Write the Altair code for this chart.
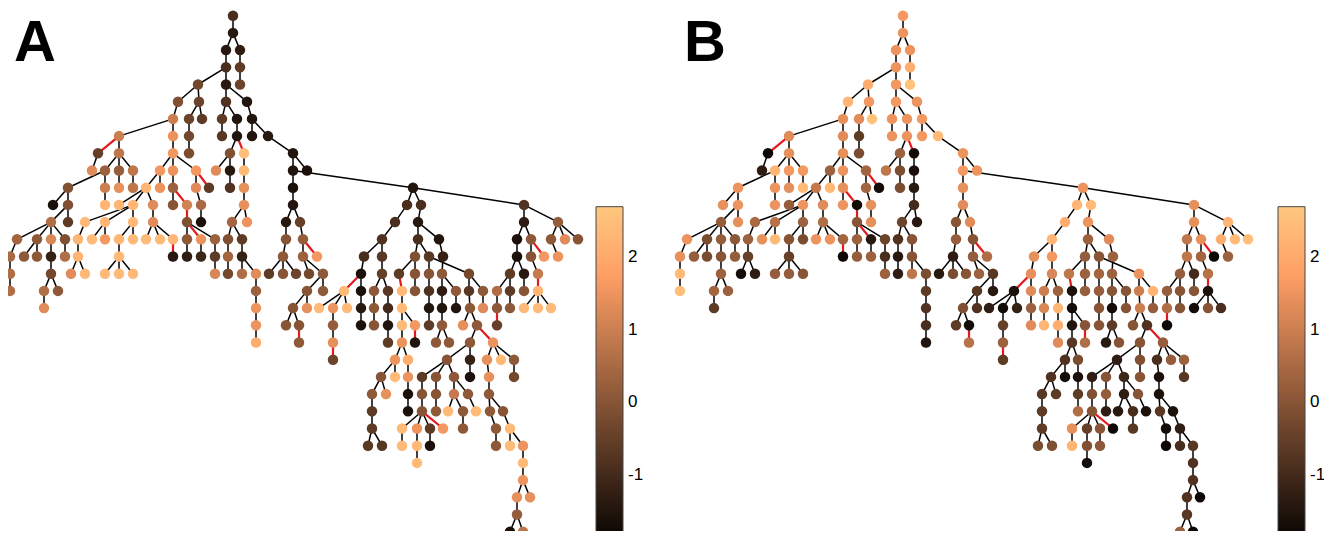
import altair as alt
import pandas as pd

# Tree nodes per depth level: (x position, parent x position, red edge flag, value A, value B)
lvl00 = [(233, None, 0, -0.9, 1.6)]
lvl01 = [(233, 233, 0, -1.4, 1.5)]
lvl02 = [(226, 233, 0, -1.4, 1.5), (240, 233, 0, -1.3, 1.5)]
lvl03 = [(226, 226, 0, -0.9, 1.5), (240, 240, 0, -0.6, 2.1)]
lvl04 = [(198, 226, 0, -0.3, 2.1), (226, 226, 0, -1.4, 1.6), (240, 240, 0, -0.4, 2.6)]
lvl05 = [(178, 198, 0, -0.1, 2.3), (199, 198, 0, -0.4, 1.6), (226, 226, 0, -0.8, 1.6), (247, 226, 0, -1.5, 1.5)]
lvl06 = [(173, 178, 0, 1.0, 1.4), (189, 199, 0, -0.4, 1.3), (202, 199, 0, -0.6, 2.6), (222, 226, 0, -0.6, 1.5),
         (237, 226, 0, -1.5, 1.5), (252, 247, 0, -1.5, 1.6)]
lvl07 = [(119, 173, 0, 1.0, 1.3), (173, 173, 0, 1.5, 1.3), (189, 189, 0, -0.3, -0.6), (222, 222, 0, -0.7, 1.5),
         (237, 237, 0, -1.5, 1.5), (252, 252, 0, -1.5, 1.6), (268, 252, 0, -1.4, 2.4)]
lvl08 = [(98, 119, 1, -0.5, -1.8), (119, 119, 0, 0.8, 1.4), (173, 173, 0, 1.6, 1.4), (189, 189, 0, -0.2, -0.2),
         (230, 237, 0, -0.1, 0.3), (244, 237, 1, 2.5, -1.7), (293, 268, 0, -1.5, 1.5)]
lvl09 = [(92, 98, 0, 1.3, -1.3), (105, 119, 0, 0.3, 2.3), (119, 119, 0, 0.2, 1.6), (133, 119, 0, 0.8, 1.6),
         (160, 173, 0, 1.6, 0.3), (173, 173, 0, 1.5, 1.5), (196, 173, 0, 1.6, 0.4), (216, 230, 0, 1.3, 0.8),
         (230, 230, 0, -1.4, -0.2), (244, 244, 0, 2.4, -1.6), (293, 293, 0, -1.5, 1.6), (307, 293, 0, -1.6, 1.5)]
lvl10 = [(68, 105, 0, -0.1, 1.5), (105, 105, 0, 1.0, 1.5), (119, 119, 0, 1.4, 1.4), (133, 133, 0, 0.8, 2.4),
         (146, 160, 0, 2.3, 0.9), (160, 160, 0, 1.5, 2.4), (173, 173, 0, 0.3, 1.4), (196, 196, 0, 1.3, 0.4),
         (209, 196, 1, -0.6, -1.7), (230, 230, 0, -0.8, -0.2), (244, 244, 0, 1.4, -1.4), (293, 293, 0, -1.6, 1.4),
         (413, 293, 0, -1.5, 1.5)]
lvl11 = [(53, 68, 0, -1.6, 1.4), (68, 68, 0, -0.1, 1.5), (105, 105, 0, 2.3, 1.5), (119, 146, 0, 2.3, 0.2),
         (133, 146, 0, 2.3, 1.5), (153, 146, 0, 1.3, 1.3), (173, 173, 0, 0.0, 1.5), (187, 173, 1, 1.1, -1.7),
         (201, 196, 0, 0.5, 1.4), (244, 244, 0, 1.4, -1.0), (293, 293, 0, -1.5, 1.3), (407, 413, 0, -0.9, 2.3),
         (421, 413, 0, -0.9, 2.4), (524, 413, 0, -0.8, 1.4)]
lvl12 = [(51, 68, 0, 0.6, 0.2), (68, 68, 0, -0.6, 1.4), (85, 133, 0, 2.4, 0.5), (105, 133, 0, 2.3, 0.7),
         (133, 133, 0, 2.4, 0.3), (153, 153, 0, 1.3, 0.6), (187, 187, 1, -0.1, 0.0), (201, 201, 0, -1.6, 1.4),
         (232, 244, 0, 0.4, -0.4), (247, 244, 0, 1.5, -1.4), (286, 293, 0, -1.4, 0.0), (300, 293, 0, -0.5, 1.3),
         (395, 407, 0, -0.9, 2.1), (418, 421, 0, -1.4, 1.5), (524, 524, 0, -1.3, 1.4), (558, 524, 0, 0.2, 2.3)]
lvl13 = [(17, 51, 0, 0.4, 1.5), (37, 51, 0, 0.1, -0.2), (51, 51, 0, 1.2, 0.2), (65, 51, 0, -0.1, 0.1),
         (78, 85, 0, 2.3, 0.3), (92, 105, 0, 2.4, 1.4), (105, 105, 0, 1.6, 2.4), (119, 133, 0, 2.3, 0.0),
         (133, 133, 0, 2.4, -0.2), (146, 153, 0, 2.4, 1.5), (160, 153, 0, 2.4, 1.5), (173, 153, 0, 2.3, 0.4),
         (187, 187, 0, 0.1, 0.3), (201, 187, 1, 1.5, -1.4), (215, 187, 0, 0.3, -0.4), (228, 232, 0, -0.1, -0.8),
         (242, 232, 0, -0.6, 0.0), (286, 286, 0, 0.0, 0.2), (303, 300, 0, 0.2, 0.0), (382, 395, 0, -0.8, 2.3),
         (418, 418, 0, -0.9, 0.3), (439, 418, 0, -1.5, 1.3), (517, 524, 0, -1.6, 0.8), (531, 524, 0, 0.1, 1.4),
         (551, 558, 0, 0.1, 2.1), (565, 558, 0, 1.3, 2.4), (578, 558, 0, 0.0, 2.5)]
lvl14 = [(10, 17, 0, 0.5, 1.4), (24, 37, 0, 0.1, 0.2), (37, 37, 0, 0.1, -0.2), (51, 51, 0, -1.2, 0.0),
         (65, 65, 0, 0.6, 0.2), (78, 78, 0, 2.3, -0.5), (119, 119, 0, 2.4, -0.5), (173, 173, 1, -1.4, -1.8),
         (187, 187, 0, -1.3, 0.2), (201, 201, 0, -1.1, 0.3), (215, 215, 0, -0.6, -0.9), (228, 228, 0, 0.4, -1.4),
         (242, 242, 0, -1.2, 0.0), (283, 286, 0, 0.1, -1.3), (303, 303, 0, 0.3, 0.2), (317, 303, 1, 1.6, 0.6),
         (364, 382, 0, -0.9, 1.4), (382, 382, 0, -0.7, 1.6), (415, 418, 0, -0.1, 0.2), (429, 418, 0, -0.7, 0.0),
         (443, 439, 0, -1.2, 0.3), (517, 517, 0, -1.6, 0.8), (531, 531, 0, 0.0, 0.4), (544, 531, 1, 1.6, -1.8),
         (558, 551, 0, 1.5, 0.3)]
lvl15 = [(10, 10, 0, 0.6, 2.4), (51, 51, 0, -0.3, 0.3), (71, 78, 0, 1.3, -1.7), (85, 78, 0, 2.4, -1.3),
         (105, 119, 0, 2.4, 0.2), (119, 119, 0, 2.4, 0.2), (133, 119, 0, 2.4, 0.0), (215, 215, 0, 1.2, 0.3),
         (228, 228, 0, -0.3, -1.3), (242, 242, 0, 0.6, 0.8), (256, 242, 0, 1.3, -0.2), (269, 283, 0, -0.6, -1.4),
         (283, 283, 0, 0.0, -0.2), (296, 283, 0, -0.4, 0.0), (309, 303, 0, -0.3, 0.3), (323, 303, 0, 0.1, -0.7),
         (361, 364, 0, -1.6, 1.4), (382, 382, 0, -0.5, 1.2), (399, 415, 0, -0.6, 0.8), (415, 415, 0, 0.0, 0.3),
         (429, 429, 0, 0.0, 0.4), (442, 443, 0, 0.1, 0.3), (469, 429, 0, -0.3, 1.5), (510, 517, 0, -0.6, 0.2),
         (524, 517, 0, -1.4, -1.0), (538, 531, 0, 0.9, 0.7)]
lvl16 = [(10, 10, 0, 0.6, 2.5), (44, 51, 0, 0.6, 0.4), (58, 51, 0, 0.1, 0.3), (256, 256, 0, 0.3, -0.6),
         (307, 323, 0, 0.0, -0.7), (323, 323, 0, 0.1, -1.4), (344, 361, 1, 2.4, -1.6), (361, 361, 0, -1.6, 1.3),
         (374, 382, 0, 0.1, 1.0), (388, 382, 0, -0.7, 0.3), (402, 399, 1, 2.4, -1.6), (415, 415, 0, 0.0, 0.2),
         (429, 429, 0, -0.8, 0.2), (442, 442, 0, -1.3, 0.0), (456, 442, 0, 0.1, 0.0), (469, 469, 0, -0.7, 1.0),
         (483, 469, 0, 0.1, 2.3), (497, 510, 0, 0.6, 0.2), (510, 510, 0, -0.6, 0.0), (524, 524, 0, 0.0, 0.0),
         (538, 538, 1, 2.3, -1.6)]
lvl17 = [(44, 44, 0, 1.3, -0.6), (256, 256, 0, 1.5, -0.8), (293, 307, 0, 0.0, -0.1), (307, 307, 0, 1.4, -0.8),
         (319, 344, 0, 2.4, -1.3), (333, 344, 0, 1.5, -1.7), (347, 344, 0, 2.4, -1.2), (361, 361, 0, -1.4, 0.3),
         (374, 374, 0, 0.1, 1.2), (388, 388, 0, -1.0, 2.3), (402, 402, 0, 2.4, -1.7), (429, 429, 0, -1.5, 0.0),
         (442, 442, 0, -1.5, -1.7), (456, 456, 0, -1.5, 0.0), (470, 469, 0, 0.1, 1.0), (483, 483, 0, 1.3, 0.2),
         (497, 497, 0, 0.1, 0.6), (510, 510, 0, 0.1, 0.0), (524, 538, 0, 2.4, -1.7), (538, 538, 0, 2.4, 0.0),
         (551, 538, 0, 2.4, -0.9)]
lvl18 = [(256, 256, 0, 1.5, -0.9), (286, 293, 0, 0.0, -0.6), (299, 293, 0, 0.0, -1.7), (333, 333, 0, 0.2, -0.5),
         (361, 361, 0, -1.6, 1.3), (374, 374, 0, 0.0, 2.3), (388, 388, 0, -1.5, 2.1), (402, 402, 0, 2.4, -1.5),
         (415, 402, 0, 1.6, 0.0), (429, 429, 0, -0.6, 0.0), (442, 442, 0, 0.1, -0.6), (463, 470, 0, 1.4, 0.0),
         (477, 470, 0, 0.1, -0.8), (497, 497, 1, -0.5, -1.8)]
lvl19 = [(256, 256, 0, 2.1, -1.5), (299, 299, 1, 0.1, 0.7), (333, 333, 0, 1.4, 0.3), (388, 388, 0, -0.6, 1.3),
         (402, 402, 0, 1.5, -0.7), (415, 415, 1, -1.5, 0.6), (436, 442, 0, 0.1, -1.4), (449, 442, 0, 0.1, 0.0),
         (470, 477, 0, 0.1, 0.0), (493, 477, 1, 1.5, 0.2)]
lvl20 = [(333, 333, 1, -0.4, -0.6), (395, 402, 0, 1.5, -0.8), (408, 402, 0, 2.1, -0.2), (447, 470, 0, 0.0, -1.3),
         (470, 470, 0, -1.2, -0.1), (487, 493, 0, 1.4, -0.9), (501, 493, 0, 2.4, 0.2), (514, 493, 0, 0.1, 0.3)]
lvl21 = [(381, 395, 0, 0.0, -0.8), (395, 395, 0, 2.4, -1.7), (408, 408, 0, 1.5, -1.6), (422, 447, 0, -0.6, -1.3),
         (436, 447, 0, 0.0, 0.0), (454, 447, 0, 0.1, -1.1), (470, 470, 0, -1.6, 0.0), (489, 487, 0, 1.4, -1.6),
         (514, 514, 0, -0.3, -0.7)]
lvl22 = [(372, 381, 0, 0.1, -0.7), (386, 381, 0, 1.4, -0.6), (408, 408, 0, -1.6, -0.6), (422, 422, 0, 0.0, -0.1),
         (436, 436, 0, 0.0, 0.2), (454, 454, 0, 0.9, -1.3), (468, 454, 0, 0.1, 0.0), (489, 489, 0, 0.1, -1.6)]
lvl23 = [(372, 372, 0, -0.6, -0.6), (408, 408, 0, -1.6, 0.6), (422, 422, 0, 0.0, 0.0), (436, 436, 0, 0.1, -1.3),
         (448, 454, 0, 2.4, -1.4), (463, 454, 0, 0.1, -0.9), (476, 468, 0, 2.4, -1.6), (490, 489, 0, 0.1, -0.7),
         (503, 489, 0, 0.0, -1.6)]
lvl24 = [(372, 372, 0, -0.6, -0.6), (402, 422, 0, 2.4, 1.4), (417, 422, 0, 1.5, -0.5), (430, 422, 0, -0.6, 0.0),
         (443, 422, 1, 1.6, -1.8), (463, 463, 0, 0.1, -0.7), (496, 490, 0, 0.1, -1.7), (510, 503, 0, 2.4, -1.3)]
lvl25 = [(368, 372, 0, -0.7, -0.2), (382, 372, 0, -0.7, -0.1), (402, 402, 0, 2.4, 2.3), (417, 417, 0, 2.4, -0.1),
         (430, 430, 0, -1.6, 0.1), (496, 496, 0, 0.1, -1.8), (510, 510, 0, 2.4, -0.9), (523, 510, 0, 1.5, -0.7)]
lvl26 = [(417, 417, 0, 2.4, -1.7), (523, 523, 0, 2.4, -0.8)]
lvl27 = [(523, 523, 0, 1.5, -0.8)]
lvl28 = [(517, 523, 0, 1.4, -0.8), (530, 523, 0, 1.4, -1.8)]
lvl29 = [(517, 517, 0, 0.2, -0.7)]
lvl30 = [(510, 517, 0, -1.6, 0.3), (523, 517, 0, 0.8, -1.8)]

levels = [lvl00, lvl01, lvl02, lvl03, lvl04, lvl05, lvl06, lvl07, lvl08, lvl09, lvl10,
          lvl11, lvl12, lvl13, lvl14, lvl15, lvl16, lvl17, lvl18, lvl19, lvl20,
          lvl21, lvl22, lvl23, lvl24, lvl25, lvl26, lvl27, lvl28, lvl29, lvl30]

panel_labels = ["A", "B"]
panel_offsets = [0, 670]
colorbar_ticks = [-1, 0, 1, 2]

# layout constants (pixel units of the page)
Y0, DY = 15.7, 17.2
W, H = 1316, 523
BAR_LEFT, BAR_W, BAR_TOP, BAR_LEN = 596, 27, 206.7, 340

recs = []
for L, row in enumerate(levels):
    for (x, px, red, va, vb) in row:
        recs.append(dict(level=L, x=x, px=px, red=red, va=va, vb=vb))

node_rows, edge_rows = [], []
for r in recs:
    y = Y0 + DY * r["level"]
    if r["px"] is not None:
        cands = [c for c in recs if c["level"] == r["level"] - 1]
        p = min(cands, key=lambda c: abs(c["x"] - r["px"]))
        py = Y0 + DY * p["level"]
    for k, off in enumerate(panel_offsets):
        node_rows.append(dict(panel=panel_labels[k], x=r["x"] + off, y=y,
                              v=r["va"] if k == 0 else r["vb"]))
        if r["px"] is not None:
            edge_rows.append(dict(x=p["x"] + off, y=py, x2=r["x"] + off, y2=y, red=r["red"]))

nodes = pd.DataFrame(node_rows)
edges = pd.DataFrame(edge_rows)

# copper colormap
VMIN, VMAX = -1.99, 2.70
cdomain = [VMIN, VMIN + 0.8 * (VMAX - VMIN), VMAX]
crange = ["#000000", "#ff9f65", "#ffc77f"]

# small tick marks on both edges of each colorbar
tick_rows = []
for off in panel_offsets:
    for v in colorbar_ticks:
        ty = BAR_TOP + (VMAX - v) / (VMAX - VMIN) * BAR_LEN
        x0 = BAR_LEFT + off
        tick_rows.append(dict(x=x0, x2=x0 + 4, y=ty))
        tick_rows.append(dict(x=x0 + BAR_W - 4, x2=x0 + BAR_W, y=ty))
ticks = pd.DataFrame(tick_rows)

xsc = alt.Scale(domain=[8, 8 + W], nice=False, zero=False)
ysc = alt.Scale(domain=[8, 8 + H], nice=False, zero=False, reverse=True)


def cbar(xpos):
    return alt.Legend(orient="none", legendX=xpos - 8, legendY=BAR_TOP - 8, direction="vertical", title=None,
                      gradientLength=BAR_LEN, gradientThickness=BAR_W, values=colorbar_ticks,
                      labelExpr="'' + datum.value", labelFontSize=17, labelFont="Liberation Sans",
                      labelColor="black", labelOffset=5, labelOverlap=False,
                      gradientStrokeColor="#444444", gradientStrokeWidth=1, padding=0)


def cscale():
    return alt.Scale(domain=cdomain, range=crange, interpolate="rgb")


X = alt.X("x:Q", scale=xsc, axis=None)
Y = alt.Y("y:Q", scale=ysc, axis=None)

black_edges = alt.Chart(edges).transform_filter("datum.red == 0").mark_rule(
    color="black", strokeWidth=1.5).encode(x=X, y=Y, x2="x2:Q", y2="y2:Q")
red_edges = alt.Chart(edges).transform_filter("datum.red == 1").mark_rule(
    color="#e3191f", strokeWidth=2.2).encode(x=X, y=Y, x2="x2:Q", y2="y2:Q")

nodes_a = alt.Chart(nodes).transform_filter("datum.panel == 'A'").mark_circle(size=110, opacity=1).encode(
    x=X, y=Y, color=alt.Color("v:Q", scale=cscale(), legend=cbar(BAR_LEFT + panel_offsets[0])))
nodes_b = alt.Chart(nodes).transform_filter("datum.panel == 'B'").mark_circle(size=110, opacity=1).encode(
    x=X, y=Y, color=alt.Color("v:Q", scale=cscale(), legend=cbar(BAR_LEFT + panel_offsets[1] + 12)))

# shift B ticks to match its bar position
ticks.loc[ticks.index >= len(colorbar_ticks) * 2, ["x", "x2"]] += 12
tick_marks = alt.Chart(ticks).mark_rule(color="#333333", strokeWidth=1).encode(x=X, y=Y, x2="x2:Q")

lab = pd.DataFrame({"t": panel_labels, "x": [14, 684], "y": [61, 61]})
labels = alt.Chart(lab).mark_text(align="left", baseline="alphabetic", fontSize=58, fontWeight="bold",
                                  font="Liberation Sans", color="black").encode(x=X, y=Y, text="t:N")

chart = alt.layer(black_edges, red_edges, nodes_a, nodes_b, tick_marks, labels).resolve_scale(
    color="independent").properties(
    width=W, height=H, autosize=alt.AutoSizeParams(type="none"), padding=0
).configure_view(stroke=None)

chart.save("out.html", embed_options={"renderer": "svg", "actions": False})
